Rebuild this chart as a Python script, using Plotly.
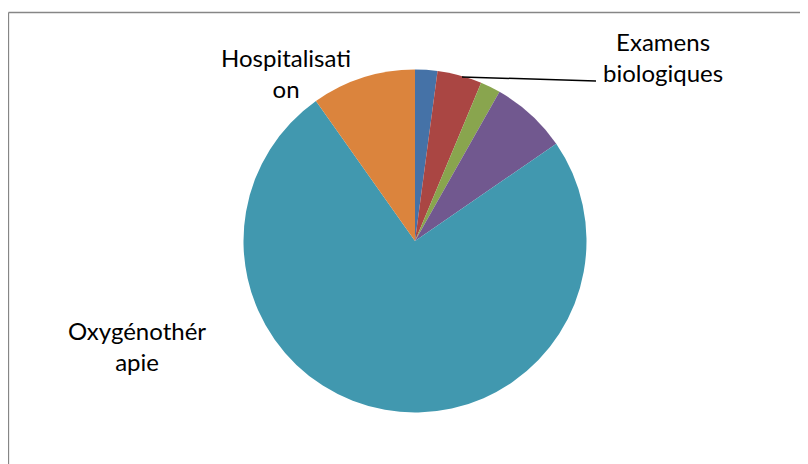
import plotly.graph_objects as go

W, H = 808, 464
OFF = 8  # page body margin shifts the figure by 8px

# slices, clockwise from 12 o'clock
categories = ["Consultations", "Examens biologiques", "Médicaments",
              "Kinésithérapie", "Oxygénothérapie", "Hospitalisation"]
values = [2.1, 4.2, 1.9, 7.2, 74.8, 9.8]
colors = ["#4572A7", "#AA4643", "#89A54E", "#71588F", "#4198AF", "#DB843D"]

# visible labels (wrapped like the original)
label_text = ["Hospitalisati<br>on", "Examens<br>biologiques", "Oxygénothér<br>apie"]
label_pos = [(286, 73), (663, 57), (137, 346)]


def px(x):
    return (x - OFF) / W


def py(y):
    return 1 - (y - OFF) / H


cx, cy, r = 415, 241, 171.5

fig = go.Figure()

fig.add_trace(go.Pie(
    labels=categories,
    values=values,
    sort=False,
    direction="clockwise",
    rotation=0,
    marker=dict(colors=colors, line=dict(width=0)),
    textinfo="none",
    hoverinfo="label+percent",
    domain=dict(x=[px(cx - r), px(cx + r)], y=[py(cy + r), py(cy - r)]),
))

for t, (x, y) in zip(label_text, label_pos):
    fig.add_annotation(x=px(x), y=py(y), xref="paper", yref="paper",
                       xanchor="center", yanchor="middle",
                       text=t, showarrow=False, align="center",
                       font=dict(family="Lato", size=24, color="#000000"))

# leader line for Examens biologiques
fig.add_shape(type="line", xref="paper", yref="paper",
              x0=px(462), y0=py(77), x1=px(596), y1=py(81),
              line=dict(color="#000000", width=1.5))

# chart area border (only left/top visible in the crop)
fig.add_shape(type="line", xref="paper", yref="paper",
              x0=px(8.5), y0=py(12.5), x1=px(816), y1=py(12.5),
              line=dict(color="#868686", width=1.3))
fig.add_shape(type="line", xref="paper", yref="paper",
              x0=px(8.5), y0=py(12.5), x1=px(8.5), y1=py(472),
              line=dict(color="#868686", width=1.3))

fig.update_layout(
    width=W, height=H,
    margin=dict(l=0, r=0, t=0, b=0),
    paper_bgcolor="white",
    plot_bgcolor="white",
    showlegend=False,
)

fig.write_html("out.html")
